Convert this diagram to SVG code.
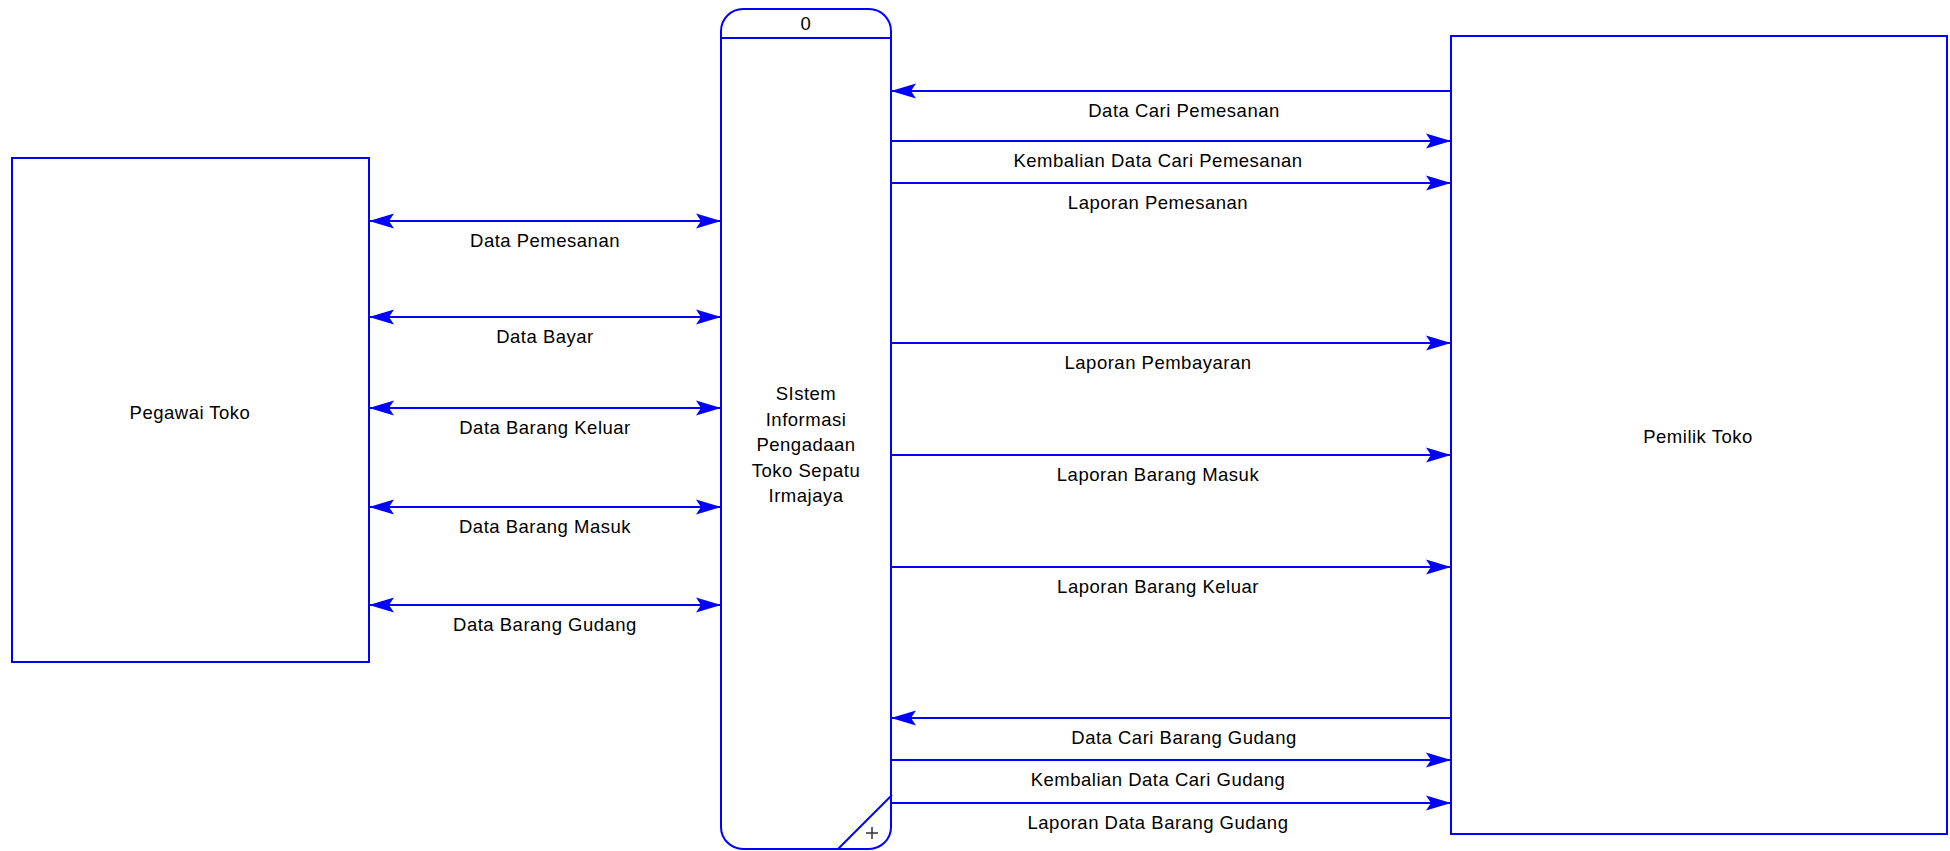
<svg xmlns="http://www.w3.org/2000/svg" width="1950" height="851" viewBox="0 0 1950 851">
<style>
.box{fill:#fff;stroke:#0000ff;stroke-width:2}
.ln{fill:none;stroke:#0000ff;stroke-width:2}
.t{font-family:"Liberation Sans",Arial,sans-serif;font-size:18.5px;letter-spacing:0.5px;fill:#000;text-anchor:middle}
.both{marker-start:url(#ah);marker-end:url(#ah)}
.one{marker-end:url(#ah)}
</style>
<defs>
<marker id="ah" markerUnits="userSpaceOnUse" viewBox="-27 -10 29 20" refX="0" refY="0" markerWidth="29" markerHeight="20" orient="auto-start-reverse">
<path d="M0,0 L-25,-7.5 L-20,0 L-25,7.5 Z" fill="#0000ff"/>
</marker>
</defs>
<rect width="1950" height="851" fill="#fff"/>
<g id="pegawai">
<rect class="box" x="12" y="158" width="357" height="504"/>
<text class="t" x="190" y="419">Pegawai Toko</text>
</g>
<g id="pemilik">
<rect class="box" x="1451" y="36" width="496" height="798"/>
<text class="t" x="1698" y="443">Pemilik Toko</text>
</g>
<g id="proses">
<path class="box" d="M743,9 H869 A22,22 0 0 1 891,31 V827 A22,22 0 0 1 869,849 H743 A22,22 0 0 1 721,827 V31 A22,22 0 0 1 743,9 Z"/>
<line class="ln" x1="721" y1="38" x2="891" y2="38"/>
<line class="ln" x1="838" y1="849" x2="892" y2="795"/>
<path d="M866,833 H878 M872,827 V839" stroke="#333" stroke-width="1.5" fill="none"/>
<text class="t" x="806" y="30">0</text>
<text class="t" x="806" y="400">SIstem</text>
<text class="t" x="806" y="425.5">Informasi</text>
<text class="t" x="806" y="451">Pengadaan</text>
<text class="t" x="806" y="476.5">Toko Sepatu</text>
<text class="t" x="806" y="502">Irmajaya</text>
</g>
<g id="connectors">
<line class="ln both" x1="369" y1="221" x2="721" y2="221"/>
<line class="ln both" x1="369" y1="317" x2="721" y2="317"/>
<line class="ln both" x1="369" y1="408" x2="721" y2="408"/>
<line class="ln both" x1="369" y1="507" x2="721" y2="507"/>
<line class="ln both" x1="369" y1="605" x2="721" y2="605"/>
<line class="ln one" x1="1451" y1="91" x2="891" y2="91"/>
<line class="ln one" x1="891" y1="141" x2="1451" y2="141"/>
<line class="ln one" x1="891" y1="183" x2="1451" y2="183"/>
<line class="ln one" x1="891" y1="343" x2="1451" y2="343"/>
<line class="ln one" x1="891" y1="455" x2="1451" y2="455"/>
<line class="ln one" x1="891" y1="567" x2="1451" y2="567"/>
<line class="ln one" x1="1451" y1="718" x2="891" y2="718"/>
<line class="ln one" x1="891" y1="760" x2="1451" y2="760"/>
<line class="ln one" x1="891" y1="803" x2="1451" y2="803"/>
</g>
<g id="labels">
<text class="t" x="545" y="247">Data Pemesanan</text>
<text class="t" x="545" y="343">Data Bayar</text>
<text class="t" x="545" y="434">Data Barang Keluar</text>
<text class="t" x="545" y="533">Data Barang Masuk</text>
<text class="t" x="545" y="631">Data Barang Gudang</text>
<text class="t" x="1184" y="117">Data Cari Pemesanan</text>
<text class="t" x="1158" y="167">Kembalian Data Cari Pemesanan</text>
<text class="t" x="1158" y="209">Laporan Pemesanan</text>
<text class="t" x="1158" y="369">Laporan Pembayaran</text>
<text class="t" x="1158" y="481">Laporan Barang Masuk</text>
<text class="t" x="1158" y="593">Laporan Barang Keluar</text>
<text class="t" x="1184" y="744">Data Cari Barang Gudang</text>
<text class="t" x="1158" y="786">Kembalian Data Cari Gudang</text>
<text class="t" x="1158" y="829">Laporan Data Barang Gudang</text>
</g>
</svg>
